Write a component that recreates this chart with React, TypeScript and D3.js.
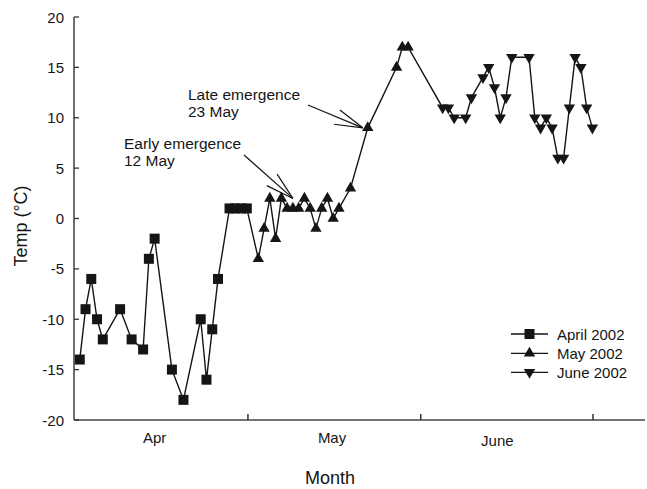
import React from "react";
import * as d3 from "d3";

// Day index (0 = start of April on the plotted axis) and temperature (°C)
const aprDays = [1, 2, 3, 4, 5, 8, 10, 12, 13, 14, 17, 19, 22, 23, 24, 25, 27, 28, 29, 30];
const aprTemps = [-14, -9, -6, -10, -12, -9, -12, -13, -4, -2, -15, -18, -10, -16, -11, -6, 1, 1, 1, 1];
const mayDays = [32, 33, 34, 35, 36, 37, 38, 39, 40, 41, 42, 43, 44, 45, 46, 48, 51, 56, 57, 58];
const mayTemps = [-4, -1, 2, -2, 2, 1, 1, 1, 2, 1, -1, 1, 2, 0, 1, 3, 9, 15, 17, 17];
const junDays = [64, 65, 66, 68, 69, 71, 72, 73, 74, 75, 76, 79, 80, 81, 82, 83, 84, 85, 86, 87, 88, 89, 90];
const junTemps = [11, 11, 10, 10, 12, 14, 15, 13, 10, 12, 16, 16, 10, 9, 10, 9, 6, 6, 11, 16, 15, 11, 9];

const yTicks = [-20, -15, -10, -5, 0, 5, 10, 15, 20];
const monthTicks = [30.2, 60.2, 90.1];
const monthLabels = ["Apr", "May", "June"];
const monthLabelPos = [14, 44.8, 73.5];
const seriesNames = ["April 2002", "May 2002", "June 2002"];

const FONT = "'Liberation Sans', Arial, Helvetica, sans-serif";
const INK = "#151515";

export default function App() {
  const W = 647;
  const H = 489;
  const x = d3.scaleLinear().domain([0, 100]).range([74, 650]);
  const y = d3.scaleLinear().domain([-20, 20]).range([420, 17]);

  const all = [
    ...aprDays.map((d, i) => [d, aprTemps[i]]),
    ...mayDays.map((d, i) => [d, mayTemps[i]]),
    ...junDays.map((d, i) => [d, junTemps[i]]),
  ] as [number, number][];
  const line = d3
    .line<[number, number]>()
    .x((d) => x(d[0]))
    .y((d) => y(d[1]));

  const sq = d3.symbol().type(d3.symbolSquare).size(100)()!;
  const tri = d3.symbol().type(d3.symbolTriangle).size(56)()!;

  const markerPath = (k: number) => (k === 0 ? sq : tri);
  const markerTransform = (k: number, px: number, py: number) =>
    k === 2 ? `translate(${px},${py}) rotate(180)` : `translate(${px},${py})`;

  // arrow helper (open arrowhead made of two barbs)
  const arrow = (tx: number, ty: number, sx: number, sy: number, key: string) => {
    const ang = Math.atan2(sy - ty, sx - tx);
    const barb = 29;
    const spread = (15.5 * Math.PI) / 180;
    const b1 = [tx + barb * Math.cos(ang + spread), ty + barb * Math.sin(ang + spread)];
    const b2 = [tx + barb * Math.cos(ang - spread), ty + barb * Math.sin(ang - spread)];
    return (
      <g key={key} stroke={INK} strokeWidth={1.2} fill="none">
        <line x1={sx} y1={sy} x2={tx} y2={ty} />
        <line x1={b1[0]} y1={b1[1]} x2={tx} y2={ty} />
        <line x1={b2[0]} y1={b2[1]} x2={tx} y2={ty} />
      </g>
    );
  };

  const earlyTip = [x(38), y(1) - 10];
  const lateTip = [x(51) - 5, y(9)];

  const legendY = [334, 353.3, 372.3];

  return (
    <svg
      width={W}
      height={H}
      style={{ position: "absolute", left: 0, top: 0, background: "#fff" }}
      fontFamily={FONT}
    >
      {/* axes */}
      <line x1={x(0)} x2={x(0)} y1={y(20)} y2={y(-20)} stroke="#333" strokeWidth={1.4} />
      <line x1={x(0)} x2={645} y1={y(-20)} y2={y(-20)} stroke="#444" strokeWidth={1.5} />
      {yTicks.map((t) => (
        <g key={t}>
          <line x1={x(0)} x2={x(0) + 5} y1={y(t)} y2={y(t)} stroke="#333" strokeWidth={1.3} />
          <text x={64} y={y(t)} textAnchor="end" dominantBaseline="central" fontSize={15} fill={INK}>
            {t}
          </text>
        </g>
      ))}
      {monthTicks.map((t) => (
        <line key={t} x1={x(t)} x2={x(t)} y1={y(-20)} y2={y(-20) - 6} stroke="#333" strokeWidth={1.5} />
      ))}
      {monthLabels.map((m, i) => (
        <text key={m} x={x(monthLabelPos[i])} y={i === 2 ? 446 : 443} textAnchor="middle" fontSize={15} fill={INK}>
          {m}
        </text>
      ))}
      <text x={330} y={484} textAnchor="middle" fontSize={18} fill={INK}>
        Month
      </text>
      <text transform="translate(27,226) rotate(-90)" textAnchor="middle" fontSize={18} fill={INK}>
        Temp (°C)
      </text>

      {/* data line */}
      <path d={line(all)!} fill="none" stroke={INK} strokeWidth={1.4} />
      {[aprDays, mayDays, junDays].map((days, k) => {
        const temps = [aprTemps, mayTemps, junTemps][k];
        return days.map((d, i) => (
          <path
            key={`${k}-${i}`}
            d={markerPath(k)}
            transform={markerTransform(k, x(d), y(temps[i]))}
            fill={INK}
          />
        ));
      })}

      {/* annotations */}
      <text x={188} y={99.5} fontSize={15.5} fill={INK}>Late emergence</text>
      <text x={188} y={117} fontSize={15.5} fill={INK}>23 May</text>
      <text x={124} y={148.5} fontSize={15.5} fill={INK}>Early emergence</text>
      <text x={124} y={166} fontSize={15.5} fill={INK}>12 May</text>
      {arrow(earlyTip[0], earlyTip[1], 244, 155, "early")}
      {arrow(lateTip[0], lateTip[1], 308, 105, "late")}

      {/* legend */}
      {seriesNames.map((s, k) => (
        <g key={s}>
          <line x1={511} x2={548} y1={legendY[k]} y2={legendY[k]} stroke={INK} strokeWidth={1.3} />
          <path d={markerPath(k)} transform={markerTransform(k, 529.5, legendY[k])} fill={INK} />
          <text x={557} y={legendY[k]} dominantBaseline="central" fontSize={15} fill={INK}>
            {s}
          </text>
        </g>
      ))}
    </svg>
  );
}
